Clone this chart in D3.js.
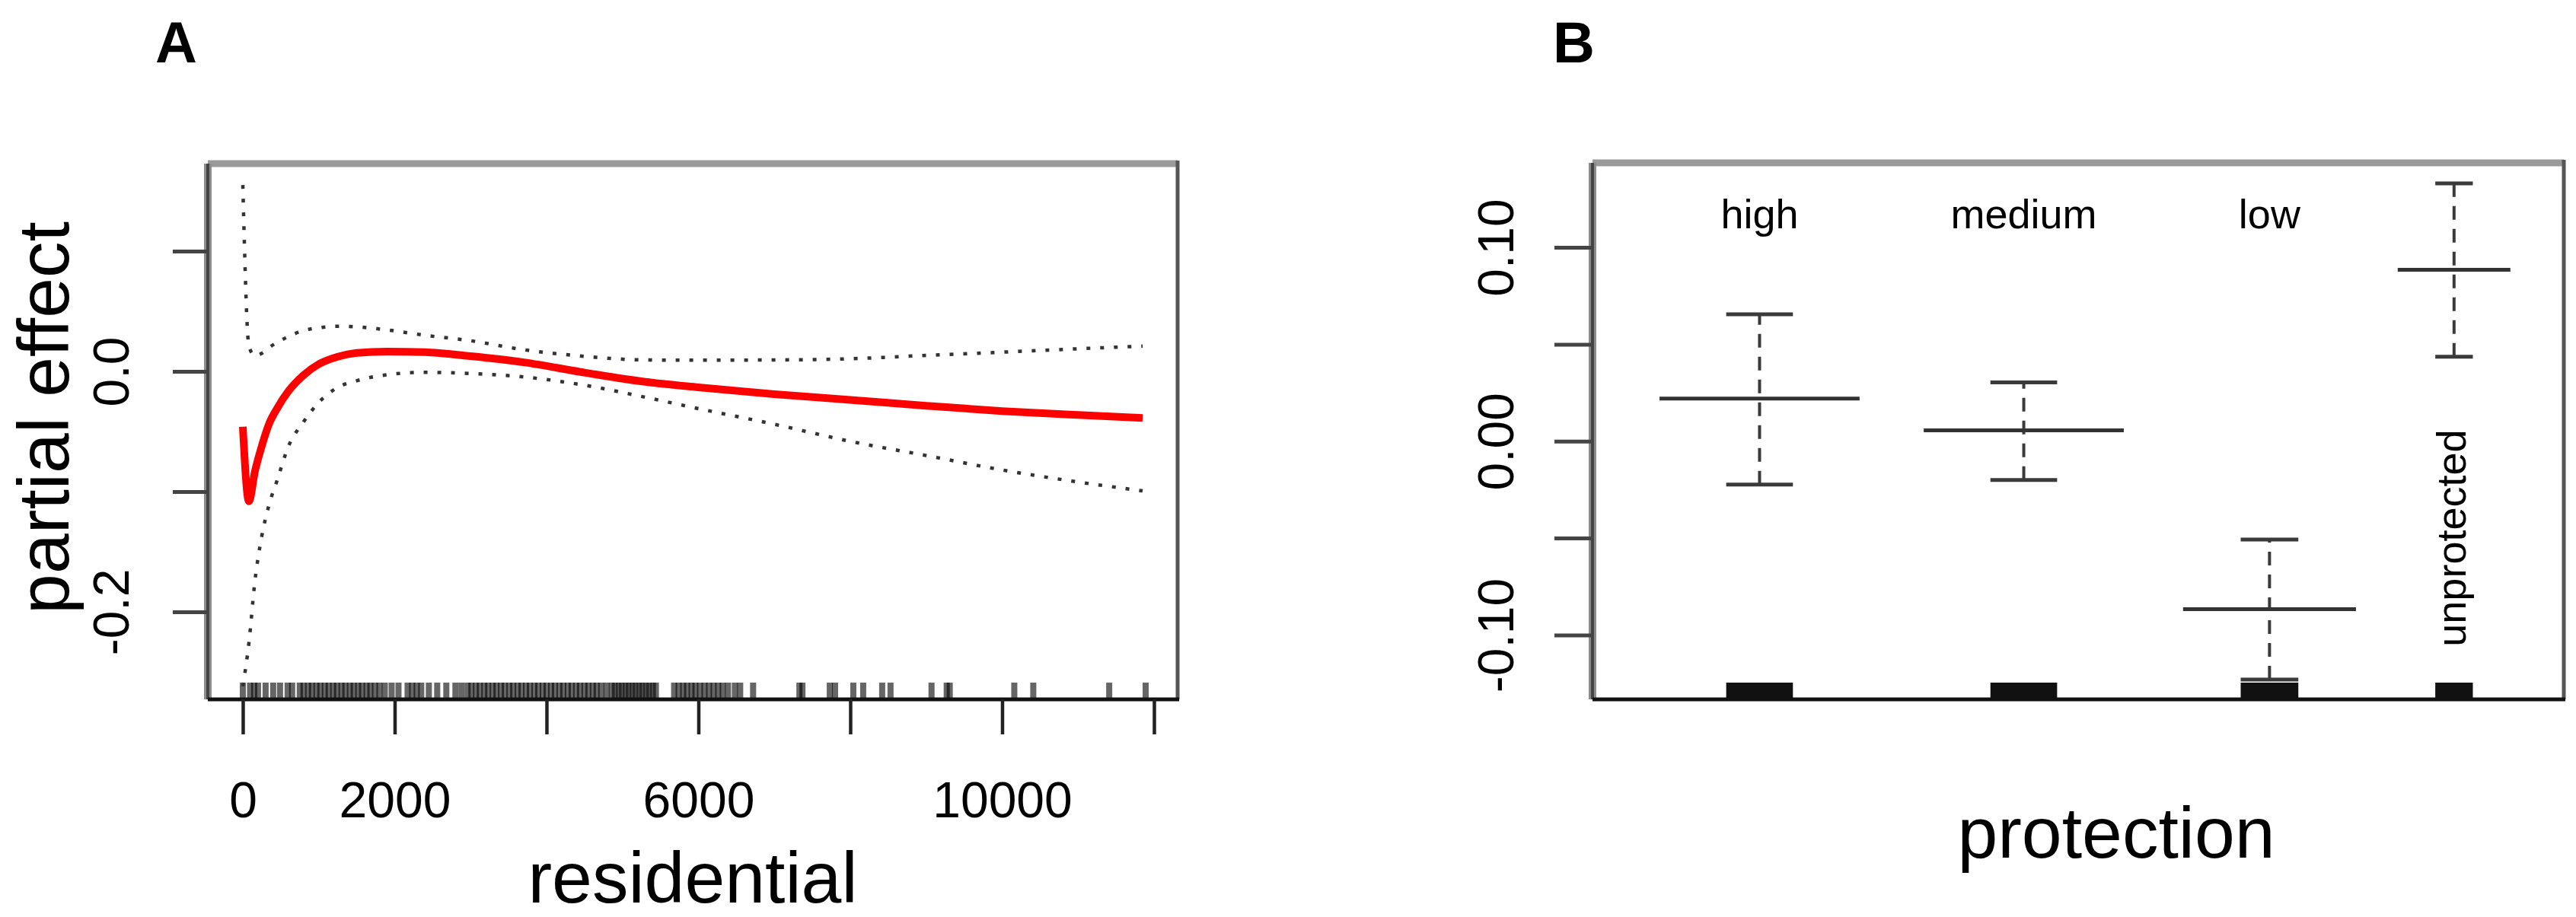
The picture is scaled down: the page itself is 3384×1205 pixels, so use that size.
<!DOCTYPE html>
<html>
<head>
<meta charset="utf-8">
<script src="https://cdn.jsdelivr.net/npm/d3@7"></script>
<style>
  body { margin: 0; background: #fff; }
  svg { display: block; font-family: "Liberation Sans", Arial, Helvetica, sans-serif; }
</style>
</head>
<body>
<svg id="fig" width="3384" height="1205"></svg>
<script>
// ---- panel A: partial effect of residential ----
const resX = [0, 80, 160, 250, 350, 450, 600, 800, 1000, 1250, 1500, 1900, 2400, 3000, 3700, 4500, 5300, 6000, 7000, 8000, 9000, 10000, 11000, 11850];
const resFit = [-0.046, -0.108, -0.083, -0.062, -0.043, -0.031, -0.0165, -0.0031, 0.006, 0.0122, 0.0153, 0.0165, 0.016, 0.0126, 0.0075, -0.001, -0.0087, -0.0133, -0.019, -0.0237, -0.0286, -0.033, -0.0363, -0.0388];
const resUpper = [0.155, 0.021, 0.013, 0.015, 0.020, 0.024, 0.029, 0.034, 0.0362, 0.0375, 0.037, 0.0345, 0.030, 0.0255, 0.018, 0.0125, 0.0095, 0.0093, 0.0095, 0.0105, 0.0133, 0.016, 0.0188, 0.021];
const resLower = [-0.262, -0.226, -0.174, -0.137, -0.110, -0.091, -0.0625, -0.042, -0.0258, -0.0133, -0.0078, -0.0028, -0.0008, -0.0018, -0.0046, -0.0115, -0.0215, -0.031, -0.044, -0.0582, -0.070, -0.082, -0.092, -0.0994];
const resRug = [0, 95, 150, 200, 300, 400, 490, 590, 650,
  750, 800, 860, 910, 970, 1020, 1080, 1130, 1190, 1240, 1300, 1350, 1410, 1460, 1520, 1570, 1630, 1680, 1740, 1800,
  1870, 1960, 2050, 2170, 2230, 2290, 2350, 2450, 2560, 2680, 2800, 2880,
  2960, 3010, 3070, 3120, 3180, 3230, 3290, 3340, 3400, 3450, 3510, 3560, 3620, 3670, 3730, 3780, 3840, 3890,
  3950, 4000, 4060, 4110, 4170, 4220, 4280, 4330, 4390, 4440, 4500, 4550, 4610, 4660, 4720, 4790,
  4860, 4900, 4950, 4990, 5040, 5080, 5130, 5170, 5220, 5260, 5310, 5350, 5400, 5440,
  5680, 5740, 5800, 5850, 5910, 5960, 6020, 6080, 6140, 6200, 6260, 6320, 6390,
  6480, 6550, 6720, 7330, 7370, 7730, 7800, 8040, 8170, 8420, 8530, 9070, 9270, 9310, 10160, 10410, 11410, 11890];
const resTicks = [0, 2000, 4000, 6000, 8000, 10000, 12000];
const resTickLabels = [0, 2000, 6000, 10000];
const effTicksA = [0.1, 0, -0.1, -0.2];
const effTickLabelsA = [0, -0.2];

// ---- panel B: partial effect of protection ----
const protLevels = ["high", "medium", "low", "unprotected"];
const protFrom = [6.9, 34.1, 60.8, 82.9];
const protTo = [27.5, 54.7, 78.6, 94.5];
const protEffect = [0.022, 0.0056, -0.0867, 0.0884];
const protUpper = [0.0655, 0.0303, -0.0507, 0.133];
const protLower = [-0.0224, -0.0200, -0.123, 0.0436];
const effTicksB = [0.1, 0.05, 0, -0.05, -0.1];
const effTickLabelsB = [0.1, 0, -0.1];

const svg = d3.select("#fig");
const inList = (list, d) => list.some(v => Math.abs(v - d) < 1e-9);

function drawBox(g, x0, x1, y0, y1) {
  g.append("line").attr("x1", x0).attr("x2", x1).attr("y1", y0).attr("y2", y0)
    .attr("stroke", "#9a9a9a").attr("stroke-width", 9);
  g.append("line").attr("x1", x0).attr("x2", x0).attr("y1", y0).attr("y2", y1)
    .attr("stroke", "#8c8c8c").attr("stroke-width", 10);
  g.append("line").attr("x1", x0).attr("x2", x0).attr("y1", y0).attr("y2", y1)
    .attr("stroke", "#444").attr("stroke-width", 4);
  g.append("line").attr("x1", x1).attr("x2", x1).attr("y1", y0 - 4).attr("y2", y1)
    .attr("stroke", "#555").attr("stroke-width", 5);
  g.append("line").attr("x1", x0).attr("x2", x1 + 2).attr("y1", y1).attr("y2", y1)
    .attr("stroke", "#111").attr("stroke-width", 5);
}

function styleYAxis(g, shift) {
  g.attr("font-family", null).attr("font-size", null);
  g.select(".domain").remove();
  g.selectAll(".tick line").attr("stroke", "#444").attr("stroke-width", 5);
  g.selectAll(".tick text")
    .attr("x", null).attr("dy", null)
    .attr("transform", `translate(${-shift},0) rotate(-90)`)
    .attr("text-anchor", "middle")
    .attr("font-size", 66)
    .attr("fill", "#000");
}

// ================= Panel A =================
function drawPanelA() {
  const g = svg.append("g");
  const x = d3.scaleLinear().domain([-461, 12311]).range([273, 1547]);
  const y = d3.scaleLinear().domain([-0.2728, 0.1728]).range([919, 215]);

  g.append("text").attr("x", 204).attr("y", 82)
    .attr("font-size", 76).attr("font-weight", "bold").text("A");

  // rug
  g.append("g").selectAll("line")
    .data(resRug)
    .join("line")
      .attr("x1", d => x(d)).attr("x2", d => x(d))
      .attr("y1", 897).attr("y2", 919)
      .attr("stroke", "#000").attr("stroke-width", 8).attr("stroke-opacity", 0.6);

  const pts = s => resX.map((v, i) => [v, s[i]]);
  const line = d3.line().x(d => x(d[0])).y(d => y(d[1])).curve(d3.curveMonotoneX);

  [resUpper, resLower].forEach(s => {
    g.append("path").attr("d", line(pts(s)))
      .attr("fill", "none").attr("stroke", "#333")
      .attr("stroke-width", 4.5).attr("stroke-dasharray", "5,13");
  });
  g.append("path").attr("d", line(pts(resFit)))
    .attr("fill", "none").attr("stroke", "#ff0000")
    .attr("stroke-width", 10).attr("stroke-linejoin", "round");

  drawBox(g, 273, 1547, 215, 919);

  g.append("g").attr("transform", "translate(273,0)")
    .call(d3.axisLeft(y).tickValues(effTicksA).tickSize(46).tickSizeOuter(0)
      .tickFormat(d => inList(effTickLabelsA, d) ? d.toFixed(1) : ""))
    .call(a => styleYAxis(a, 104));

  g.append("g").attr("transform", "translate(0,919)")
    .call(d3.axisBottom(x).tickValues(resTicks).tickSize(46).tickSizeOuter(0)
      .tickFormat(d => inList(resTickLabels, d) ? d : ""))
    .call(a => {
      a.attr("font-family", null).attr("font-size", null);
      a.select(".domain").remove();
      a.selectAll(".tick line").attr("stroke", "#222").attr("stroke-width", 4.5);
      a.selectAll(".tick text").attr("y", 155).attr("dy", null)
        .attr("font-size", 66).attr("fill", "#000");
    });

  g.append("text").attr("x", 910).attr("y", 1186)
    .attr("text-anchor", "middle").attr("font-size", 95).text("residential");
  g.append("text").attr("transform", "translate(90,549) rotate(-90)")
    .attr("text-anchor", "middle").attr("font-size", 95).text("partial effect");
}

// ================= Panel B =================
function drawPanelB() {
  const g = svg.append("g");
  const x = d3.scaleLinear().domain([0, 100]).range([2092, 3368]);
  const y = d3.scaleLinear().domain([-0.1332, 0.1436]).range([919, 214]);

  g.append("text").attr("x", 2040).attr("y", 82)
    .attr("font-size", 76).attr("font-weight", "bold").text("B");

  const rows = protLevels.map((name, i) => ({
    name, from: protFrom[i], to: protTo[i],
    mid: (protFrom[i] + protTo[i]) / 2,
    cap: (protTo[i] - protFrom[i]) / 6,
    fit: protEffect[i], hi: protUpper[i], lo: protLower[i]
  }));

  const grp = g.append("g").selectAll("g").data(rows).join("g");

  // rug blocks
  grp.append("rect")
    .attr("x", d => x(d.mid - d.cap)).attr("width", d => x(d.mid + d.cap) - x(d.mid - d.cap))
    .attr("y", 897).attr("height", 22).attr("fill", "#111");

  grp.append("line")
    .attr("x1", d => x(d.mid)).attr("x2", d => x(d.mid))
    .attr("y1", d => y(d.lo)).attr("y2", d => y(d.hi))
    .attr("stroke", "#3a3a3a").attr("stroke-width", 4).attr("stroke-dasharray", "18,12");
  [d => d.hi, d => d.lo].forEach(f => {
    grp.append("line")
      .attr("x1", d => x(d.mid - d.cap)).attr("x2", d => x(d.mid + d.cap))
      .attr("y1", d => y(f(d))).attr("y2", d => y(f(d)))
      .attr("stroke", "#3a3a3a").attr("stroke-width", 5);
  });
  grp.append("line")
    .attr("x1", d => x(d.from)).attr("x2", d => x(d.to))
    .attr("y1", d => y(d.fit)).attr("y2", d => y(d.fit))
    .attr("stroke", "#333").attr("stroke-width", 5);

  // level names: last one is written vertically
  grp.append("text")
    .attr("font-size", 54)
    .attr("text-anchor", "middle")
    .attr("transform", (d, i) => i < rows.length - 1
      ? `translate(${x(d.mid)},${y(0.11)})`
      : `translate(${x(d.mid) + 15},${y(-0.05)}) rotate(-90)`)
    .text(d => d.name);

  drawBox(g, 2092, 3368, 214, 919);

  g.append("g").attr("transform", "translate(2092,0)")
    .call(d3.axisLeft(y).tickValues(effTicksB).tickSize(50).tickSizeOuter(0)
      .tickFormat(d => inList(effTickLabelsB, d) ? d.toFixed(2) : ""))
    .call(a => styleYAxis(a, 104));

  g.append("text").attr("x", 2780).attr("y", 1127)
    .attr("text-anchor", "middle").attr("font-size", 95).text("protection");
}

drawPanelA();
drawPanelB();
</script>
</body>
</html>
